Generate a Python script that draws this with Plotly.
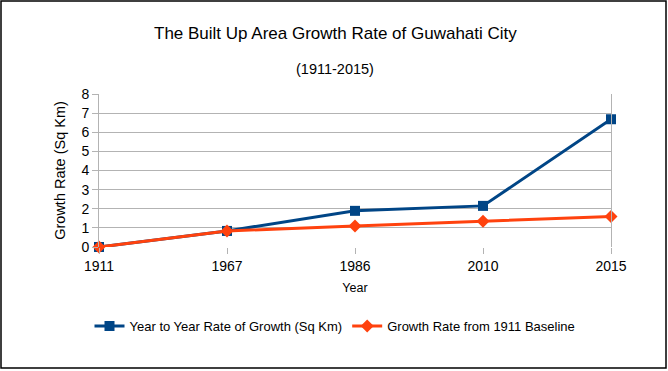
import plotly.graph_objects as go

years = ["1911", "1967", "1986", "2010", "2015"]
year_to_year = [0.0, 0.84, 1.89, 2.15, 6.68]
from_baseline = [0.0, 0.84, 1.10, 1.35, 1.60]
y_ticks = [0, 1, 2, 3, 4, 5, 6, 7, 8]

W, H = 668, 371
L, R, T, B = 99, 57, 94, 124
pw, ph = W - L - R, H - T - B

fig = go.Figure()
fig.add_trace(go.Scatter(
    x=years, y=year_to_year, mode="lines+markers",
    name="Year to Year Rate of Growth (Sq Km)",
    line=dict(color="#004586", width=3),
    marker=dict(symbol="square", size=10, color="#004586"),
    cliponaxis=False,
))
fig.add_trace(go.Scatter(
    x=years, y=from_baseline, mode="lines+markers",
    name="Growth Rate from 1911 Baseline",
    line=dict(color="#ff420e", width=3),
    marker=dict(symbol="diamond", size=10, color="#ff420e"),
    cliponaxis=False,
))

font = "Liberation Sans, Arial, sans-serif"
fig.update_layout(
    width=W, height=H,
    margin=dict(l=L, r=R, t=T, b=B),
    paper_bgcolor="white", plot_bgcolor="white",
    font=dict(family=font, color="#000000", size=13),
    showlegend=True,
    legend=dict(orientation="h", x=(335 - L) / pw, xanchor="center",
                y=(H - B - 326) / ph, yanchor="middle",
                font=dict(size=13, family=font), itemwidth=30),
    xaxis=dict(type="category", range=[0, len(years) - 1],
               showgrid=False, ticks="outside", ticklen=6, tickcolor="#b3b3b3",
               showline=False, zeroline=False,
               tickfont=dict(size=14),
               title=dict(text="Year", font=dict(size=12.5), standoff=10)),
    yaxis=dict(range=[0, 8], tickvals=y_ticks, showgrid=True, gridcolor="#b3b3b3",
               ticks="outside", ticklen=6, tickcolor="#b3b3b3",
               showline=True, linecolor="#b3b3b3", mirror=True, zeroline=False,
               tickfont=dict(size=14),
               title=dict(text="Growth Rate (Sq Km)", font=dict(size=14.5), standoff=12)),
)

fig.add_annotation(text="The Built Up Area Growth Rate of Guwahati City",
                   xref="paper", yref="paper", x=(335 - L) / pw, y=(H - B - 33) / ph,
                   showarrow=False, font=dict(size=17, family=font), xanchor="center", yanchor="middle")
fig.add_annotation(text="(1911-2015)",
                   xref="paper", yref="paper", x=(335 - L) / pw, y=(H - B - 69) / ph,
                   showarrow=False, font=dict(size=14.5, family=font), xanchor="center", yanchor="middle")

fig.add_shape(type="rect", xref="paper", yref="paper",
              x0=(1 - L) / pw, x1=(666 - L) / pw,
              y0=(H - B - 368) / ph, y1=(H - B - 1) / ph,
              line=dict(color="black", width=1.5), layer="above")

fig.write_html("out.html", config={"displayModeBar": False},
               post_script="document.body.style.margin='0';document.body.style.padding='0';")
